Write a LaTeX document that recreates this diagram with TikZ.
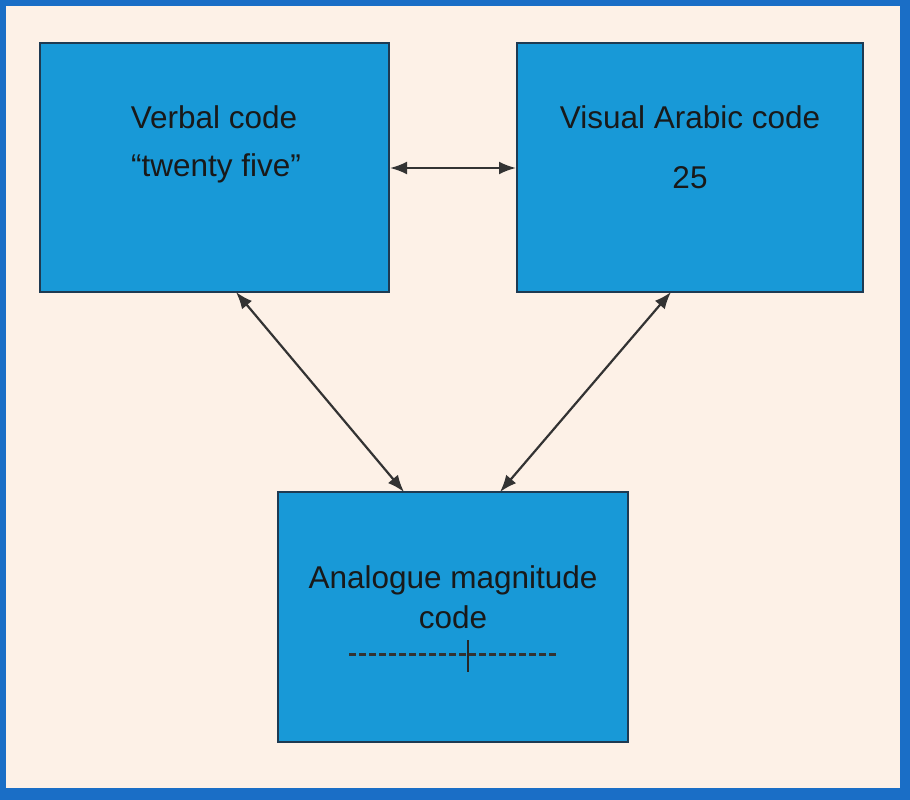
\documentclass[tikz,border=0pt]{standalone}
\usepackage{fontspec}
\setmainfont{Liberation Sans}
\usetikzlibrary{arrows.meta}
\definecolor{frameblue}{HTML}{1A6EC6}
\definecolor{cream}{HTML}{FDF1E7}
\definecolor{boxblue}{HTML}{1899D7}
\definecolor{boxedge}{HTML}{1E3A52}
\begin{document}
\begin{tikzpicture}[x=1pt,y=-1pt,
  codebox/.style={draw=boxedge,line width=2.5pt,fill=boxblue,rectangle,inner sep=0pt},
  lbl/.style={font=\fontsize{31.5}{36}\selectfont,text=black!90,align=center},
  conn/.style={line width=2.2pt,draw=black!80,{Latex[length=17pt,width=13pt]}-{Latex[length=17pt,width=13pt]}}]
\useasboundingbox (0,0) rectangle (910,800);
\fill[frameblue] (0,0) rectangle (910,800);
\fill[cream] (6,6) rectangle (900,788);
% boxes
\node[codebox,minimum width=349pt,minimum height=249pt] (verbal) at (214.5,167.5) {};
\node[codebox,minimum width=346pt,minimum height=249pt] (visual) at (690,167.5) {};
\node[codebox,minimum width=350pt,minimum height=250pt] (analog) at (453,617) {};
% texts
\node[lbl] (t1) at (214,117) {Verbal code};
\node[lbl] (t2) at (216,168) {\char"201Ctwenty five\char"201D};
\node[lbl] (t3) at (690,117) {Visual Arabic code};
\node[lbl] (t4) at (690,178) {25};
\node[lbl] (t5) at (453,580) {Analogue magnitude};
\node[lbl] (t6) at (453,617) {code};
% dashed scale
\coordinate (s1) at (349,654);
\coordinate (s2) at (557,654);
\coordinate (k1) at (468,640);
\coordinate (k2) at (468,672);
\draw[line width=3pt,black!80,dash pattern=on 7pt off 3pt] (s1) -- (s2);
\draw[line width=2.5pt,black!85] (k1) -- (k2);
% connectors
\coordinate (a1) at (390,168);
\coordinate (a2) at (516,168);
\draw[conn] (a1) -- (a2);
\coordinate (b1) at (236,292);
\coordinate (b2) at (404,492);
\draw[conn] (b1) -- (b2);
\coordinate (c1) at (671,292);
\coordinate (c2) at (500,492);
\draw[conn] (c1) -- (c2);
\end{tikzpicture}
\end{document}
